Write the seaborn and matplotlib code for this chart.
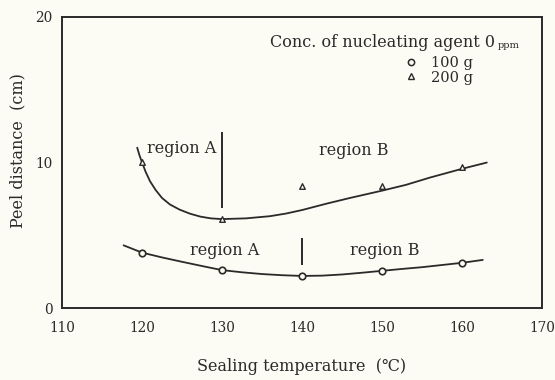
import matplotlib
matplotlib.use("Agg")
import matplotlib.pyplot as plt
from matplotlib.lines import Line2D
import seaborn as sns
import pandas as pd

# Measured peel distance (cm) at each sealing temperature
temps = [120, 130, 140, 150, 160]
peel_100g = [3.8, 2.6, 2.2, 2.55, 3.1]
peel_200g = [10.0, 6.1, 8.4, 8.4, 9.7]

# Hand-drawn trend curves through the measurements
curve_100g_x = [117.7, 120, 122.5, 125, 127.5, 130, 132.5, 135, 137.5, 140,
                142.5, 145, 147.5, 150, 152.5, 155, 157.5, 160, 162.6]
curve_100g_y = [4.3, 3.8, 3.47, 3.17, 2.88, 2.6, 2.45, 2.33, 2.25, 2.2,
                2.22, 2.3, 2.42, 2.55, 2.68, 2.8, 2.95, 3.1, 3.3]
curve_200g_x = [119.4, 119.7, 120.0, 120.45, 121.0, 121.7, 122.5, 123.5,
                124.7, 126.0, 127.3, 128.6, 130, 133, 136, 138, 140, 143,
                146, 150, 153, 156, 160, 163.1]
curve_200g_y = [11.0, 10.45, 10.0, 9.35, 8.7, 8.1, 7.55, 7.1, 6.75, 6.47,
                6.27, 6.15, 6.1, 6.15, 6.3, 6.48, 6.72, 7.15, 7.55, 8.05,
                8.45, 8.95, 9.55, 9.98]

# Region A / B boundaries: temperature, lower and upper end
boundary_temp = [130, 140]
boundary_low = [6.85, 2.95]
boundary_high = [12.1, 4.8]

x_ticks = [110, 120, 130, 140, 150, 160, 170]
y_ticks = [0, 10, 20]
series_labels = ["100 g", "200 g"]

BG = "#fcfcf4"
INK = "#2a2a2a"
SERIF = ["DejaVu Serif", "Noto Sans CJK JP"]

sns.set_theme(style="white")
plt.rcParams["font.family"] = SERIF
plt.rcParams["text.color"] = INK
plt.rcParams["axes.labelcolor"] = INK
plt.rcParams["xtick.color"] = INK
plt.rcParams["ytick.color"] = INK

fig = plt.figure(figsize=(5.55, 3.8), dpi=100, facecolor=BG)
ax = fig.add_axes([62 / 555, 1 - 308 / 380, 480 / 555, 291.5 / 380])
ax.set_facecolor(BG)

pts = pd.DataFrame({"temp": temps, "p100": peel_100g, "p200": peel_200g})
c100 = pd.DataFrame({"x": curve_100g_x, "y": curve_100g_y})
c200 = pd.DataFrame({"x": curve_200g_x, "y": curve_200g_y})

sns.lineplot(data=c100, x="x", y="y", ax=ax, color=INK, lw=1.3,
             sort=False, estimator=None)
sns.lineplot(data=c200, x="x", y="y", ax=ax, color=INK, lw=1.3,
             sort=False, estimator=None)
ax.vlines(boundary_temp, boundary_low, boundary_high, color=INK, lw=1.4)

sns.scatterplot(data=pts, x="temp", y="p100", ax=ax, marker="o", s=22,
                facecolor=BG, edgecolor=INK, linewidth=1.2, zorder=5)
sns.scatterplot(data=pts, x="temp", y="p200", ax=ax, marker="^", s=16,
                facecolor=BG, edgecolor=INK, linewidth=1.0, zorder=5)

ax.set_xlim(110, 170)
ax.set_ylim(0, 20)
ax.set_xticks(x_ticks)
ax.set_yticks(y_ticks)
ax.tick_params(axis="x", direction="in", length=6, width=1.2, pad=9,
               labelsize=9.8)
ax.tick_params(axis="y", direction="out", length=5, width=1.2, pad=2,
               labelsize=9.8)
for spine in ax.spines.values():
    spine.set_color(INK)
    spine.set_linewidth(1.4)

ax.set_xlabel("Sealing temperature  (℃)", fontsize=11.5, labelpad=17)
ax.set_ylabel("Peel distance  (cm)", fontsize=11.5, labelpad=6)
ax.yaxis.label.set_y(0.54)

# Region annotations
ax.text(124.9, 10.95, "region A", ha="center", va="center", fontsize=11.5)
ax.text(146.5, 10.8, "region B", ha="center", va="center", fontsize=11.5)
ax.text(130.3, 3.97, "region A", ha="center", va="center", fontsize=11.5)
ax.text(150.3, 3.97, "region B", ha="center", va="center", fontsize=11.5)

# Legend heading with small "ppm" unit
head = ax.text(0.433, 0.91, "Conc. of nucleating agent 0", transform=ax.transAxes,
               ha="left", va="center", fontsize=11.5)
ax.annotate("ppm", xy=(1, 0.1), xycoords=head, xytext=(2, 0),
            textcoords="offset points", ha="left", va="bottom", fontsize=7)

handles = [
    Line2D([], [], ls="none", marker="o", ms=4.5, mfc=BG, mec=INK, mew=1.1),
    Line2D([], [], ls="none", marker="^", ms=4, mfc=BG, mec=INK, mew=1.0),
]
ax.legend(handles, series_labels, loc="upper left",
          bbox_to_anchor=(0.712, 0.865), frameon=False, fontsize=10.5,
          handlelength=1.0, handletextpad=0.9, labelspacing=0.05,
          borderpad=0, borderaxespad=0)

fig.savefig("out.png", dpi=100, facecolor=BG)
